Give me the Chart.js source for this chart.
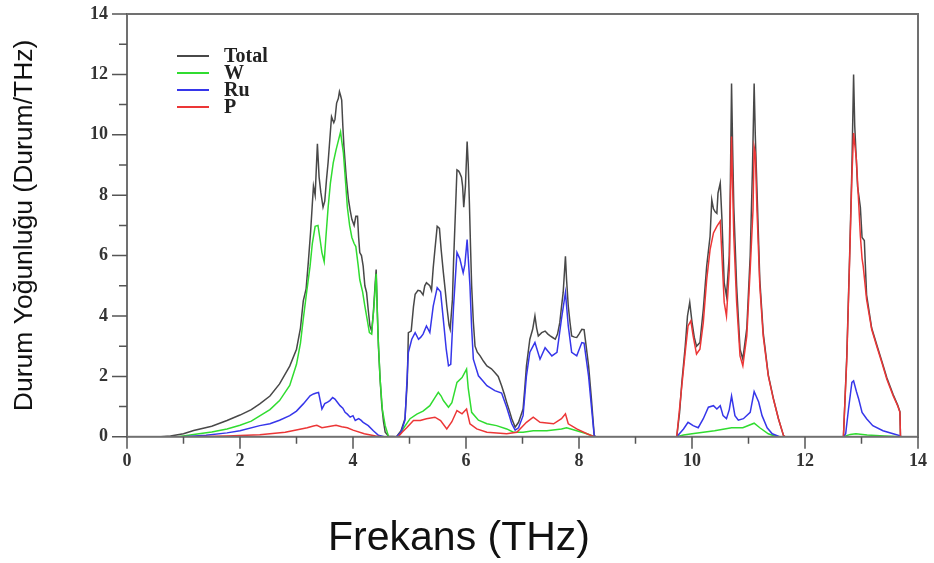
<!DOCTYPE html>
<html lang="tr">
<head>
<meta charset="UTF-8">
<title>Durum Yoğunluğu</title>
<script src="https://cdn.jsdelivr.net/npm/chart.js"></script>
<style>
  body { margin: 0; background: #fff; }
</style>
</head>
<body>
<canvas id="dos" width="934" height="563"></canvas>
<script>
// [frekans (THz), durum yoğunluğu (Durum/THz)]
const total = [
  [0,0],[0.6,0],[0.77,0.03],[1.0,0.1],[1.18,0.21],[1.5,0.35],[1.77,0.54],[2.0,0.72],[2.2,0.9],[2.35,1.09],
  [2.53,1.35],[2.7,1.75],[2.88,2.34],[3.0,2.9],[3.07,3.6],[3.12,4.5],[3.17,4.9],[3.21,5.8],[3.25,6.8],[3.27,7.4],
  [3.3,8.3],[3.33,8.0],[3.37,9.7],[3.4,8.6],[3.43,8.1],[3.47,7.6],[3.5,7.8],[3.53,8.5],[3.56,9.1],[3.6,10.1],
  [3.62,10.6],[3.66,10.4],[3.68,10.5],[3.71,11.05],[3.74,11.2],[3.76,11.43],[3.78,11.3],[3.8,11.15],[3.82,10.3],[3.84,9.6],
  [3.88,8.6],[3.92,7.85],[3.95,7.5],[3.98,7.2],[4.02,7.0],[4.05,7.3],[4.08,7.3],[4.1,6.6],[4.12,6.1],[4.15,6.0],
  [4.18,5.65],[4.21,5.0],[4.24,4.78],[4.27,4.2],[4.3,3.67],[4.33,3.5],[4.36,4.1],[4.39,5.0],[4.41,5.54],[4.43,4.2],
  [4.45,3.0],[4.48,1.9],[4.51,1.03],[4.54,0.5],[4.57,0.15],[4.63,0.02],[4.77,0],
  [4.85,0.2],[4.92,0.6],[4.96,1.8],[4.98,3.45],[5.03,3.5],[5.07,4.3],[5.1,4.72],[5.15,4.85],[5.19,4.83],[5.24,4.7],
  [5.27,5.0],[5.3,5.1],[5.36,5.0],[5.39,4.85],[5.42,5.6],[5.45,6.2],[5.49,6.97],[5.53,6.9],[5.56,6.2],[5.6,5.43],
  [5.63,4.9],[5.66,4.33],[5.7,3.7],[5.72,3.56],[5.76,4.55],[5.78,5.8],[5.81,7.3],[5.84,8.84],[5.87,8.8],[5.89,8.73],
  [5.92,8.6],[5.94,8.3],[5.96,7.6],[5.99,8.3],[6.02,9.78],[6.04,9.0],[6.06,7.75],[6.08,6.3],[6.1,5.0],[6.13,3.8],
  [6.16,3.0],[6.2,2.8],[6.25,2.68],[6.31,2.5],[6.37,2.35],[6.45,2.25],[6.51,2.13],[6.57,2.0],[6.63,1.69],[6.68,1.4],
  [6.72,1.14],[6.77,0.85],[6.81,0.6],[6.87,0.32],[6.93,0.48],[6.97,0.7],[7.01,0.92],[7.04,1.6],[7.07,2.35],[7.13,3.23],
  [7.18,3.56],[7.22,4.0],[7.25,3.6],[7.28,3.34],[7.34,3.45],[7.4,3.5],[7.45,3.4],[7.49,3.34],[7.54,3.28],[7.58,3.23],
  [7.62,3.4],[7.66,3.78],[7.69,4.3],[7.72,4.78],[7.76,5.98],[7.78,5.2],[7.81,4.33],[7.84,3.8],[7.87,3.34],[7.92,3.3],
  [7.96,3.29],[8.0,3.4],[8.05,3.56],[8.09,3.55],[8.12,3.1],[8.17,2.35],[8.22,1.25],[8.27,0.04],[8.3,0],
  [9.73,0],[9.78,0.8],[9.82,1.8],[9.88,3.0],[9.92,4.0],[9.96,4.45],[10.0,3.8],[10.04,3.3],[10.08,3.0],[10.14,3.12],
  [10.2,4.22],[10.26,5.65],[10.32,6.64],[10.35,7.85],[10.38,7.55],[10.41,7.45],[10.44,7.4],[10.46,8.07],[10.5,8.4],[10.53,7.2],
  [10.57,5.1],[10.61,4.66],[10.66,6.0],[10.68,8.5],[10.7,11.7],[10.72,9.5],[10.74,7.6],[10.79,5.0],[10.85,2.9],[10.9,2.57],
  [10.97,3.6],[11.03,6.0],[11.07,8.84],[11.1,11.7],[11.12,10.0],[11.14,8.8],[11.2,5.2],[11.26,3.45],[11.35,2.05],[11.44,1.27],
  [11.53,0.6],[11.62,0.04],[11.65,0],
  [12.68,0],[12.74,2.7],[12.79,6.0],[12.83,8.9],[12.86,12.0],[12.88,10.3],[12.93,8.3],[12.98,7.6],[13.01,6.6],[13.05,6.5],
  [13.09,4.7],[13.18,3.6],[13.27,3.05],[13.36,2.5],[13.45,1.95],[13.56,1.4],[13.64,1.05],[13.68,0.83],[13.69,0]
];

const tungsten = [
  [0,0],[0.9,0],[1.18,0.08],[1.5,0.16],[1.77,0.26],[2.0,0.38],[2.2,0.52],[2.35,0.69],[2.53,0.9],[2.7,1.2],
  [2.88,1.7],[3.0,2.4],[3.07,3.1],[3.12,3.9],[3.18,4.8],[3.24,5.65],[3.28,6.4],[3.33,6.97],[3.38,7.0],[3.42,6.5],
  [3.45,6.1],[3.49,5.8],[3.52,6.6],[3.56,7.6],[3.6,8.4],[3.65,9.07],[3.7,9.5],[3.74,9.8],[3.78,10.1],[3.8,9.8],
  [3.83,9.4],[3.87,8.4],[3.9,7.6],[3.94,7.0],[3.98,6.6],[4.02,6.4],[4.05,6.3],[4.09,5.7],[4.12,5.2],[4.17,4.8],
  [4.21,4.33],[4.25,3.9],[4.29,3.45],[4.33,3.4],[4.37,4.3],[4.41,5.4],[4.44,3.5],[4.48,1.9],[4.52,0.9],[4.57,0.37],
  [4.63,0],[4.8,0],
  [4.9,0.3],[5.01,0.6],[5.13,0.75],[5.24,0.85],[5.36,1.03],[5.45,1.3],[5.51,1.47],[5.56,1.35],[5.6,1.2],[5.69,0.98],
  [5.75,1.13],[5.84,1.8],[5.93,1.96],[6.01,2.24],[6.04,1.6],[6.1,0.81],[6.22,0.55],[6.37,0.43],[6.54,0.37],[6.72,0.26],
  [6.84,0.15],[7.01,0.15],[7.19,0.2],[7.43,0.2],[7.69,0.26],[7.78,0.3],[7.96,0.2],[8.14,0.1],[8.27,0],
  [9.73,0],[9.85,0.06],[10.0,0.1],[10.2,0.15],[10.4,0.2],[10.55,0.25],[10.7,0.3],[10.9,0.3],[11.1,0.45],[11.2,0.3],
  [11.35,0.1],[11.5,0],
  [12.68,0],[12.8,0.08],[12.9,0.1],[13.1,0.06],[13.4,0.03],[13.69,0]
];

const ruthenium = [
  [0,0],[1.0,0],[1.4,0.05],[1.77,0.13],[2.0,0.2],[2.35,0.37],[2.53,0.43],[2.7,0.55],[2.88,0.7],[3.0,0.85],
  [3.12,1.09],[3.24,1.36],[3.3,1.42],[3.35,1.45],[3.39,1.47],[3.42,1.2],[3.45,0.92],[3.5,1.1],[3.55,1.15],[3.59,1.2],
  [3.64,1.3],[3.68,1.25],[3.72,1.15],[3.77,1.03],[3.82,0.95],[3.86,0.81],[3.9,0.75],[3.95,0.65],[4.0,0.7],[4.04,0.54],
  [4.1,0.6],[4.14,0.55],[4.18,0.48],[4.27,0.37],[4.36,0.2],[4.45,0.05],[4.55,0],[4.77,0],
  [4.85,0.15],[4.92,0.55],[4.98,2.8],[5.04,3.23],[5.1,3.45],[5.16,3.23],[5.2,3.3],[5.24,3.4],[5.3,3.67],[5.36,3.45],
  [5.42,4.33],[5.49,4.94],[5.55,4.8],[5.61,3.67],[5.65,2.9],[5.69,2.35],[5.73,2.4],[5.78,4.33],[5.84,6.1],[5.89,5.9],
  [5.95,5.43],[5.98,5.7],[6.02,6.53],[6.07,5.0],[6.1,3.6],[6.13,2.57],[6.22,2.02],[6.3,1.85],[6.37,1.69],[6.51,1.53],
  [6.63,1.45],[6.72,0.98],[6.81,0.43],[6.87,0.22],[6.93,0.3],[7.01,0.7],[7.07,2.02],[7.13,2.8],[7.22,3.12],[7.31,2.57],
  [7.4,2.95],[7.52,2.68],[7.61,2.8],[7.69,3.9],[7.76,4.78],[7.81,3.67],[7.87,2.8],[7.96,2.68],[8.05,3.12],[8.09,3.1],
  [8.17,2.0],[8.22,1.0],[8.27,0.02],[8.3,0],
  [9.73,0],[9.85,0.26],[9.93,0.48],[10.02,0.37],[10.11,0.3],[10.2,0.6],[10.29,0.98],[10.38,1.03],[10.44,0.92],[10.5,1.03],
  [10.55,0.7],[10.61,0.6],[10.66,0.9],[10.7,1.35],[10.76,0.7],[10.82,0.55],[10.91,0.6],[11.03,0.81],[11.1,1.5],[11.18,1.15],
  [11.24,0.7],[11.33,0.3],[11.42,0.1],[11.55,0],
  [12.68,0],[12.72,0.1],[12.77,0.92],[12.83,1.8],[12.86,1.85],[12.91,1.5],[12.95,1.25],[13.01,0.81],[13.09,0.6],[13.2,0.37],
  [13.38,0.2],[13.56,0.1],[13.69,0.03],[13.7,0]
];

const phosphorus = [
  [0,0],[1.2,0],[1.77,0.03],[2.35,0.07],[2.8,0.15],[3.19,0.3],[3.3,0.36],[3.36,0.38],[3.45,0.3],[3.55,0.33],
  [3.7,0.38],[3.8,0.33],[3.9,0.3],[4.0,0.22],[4.2,0.1],[4.4,0.03],[4.5,0],[4.8,0],
  [4.87,0.15],[4.95,0.3],[5.07,0.54],[5.19,0.54],[5.3,0.6],[5.45,0.65],[5.55,0.54],[5.66,0.26],[5.75,0.5],[5.84,0.87],
  [5.93,0.76],[6.01,0.92],[6.07,0.43],[6.19,0.26],[6.37,0.15],[6.72,0.1],[6.9,0.15],[7.07,0.48],[7.19,0.65],[7.31,0.48],
  [7.55,0.43],[7.69,0.6],[7.76,0.76],[7.81,0.43],[7.96,0.26],[8.14,0.1],[8.27,0],
  [9.73,0],[9.82,1.69],[9.88,2.8],[9.93,3.67],[9.98,3.84],[10.02,3.34],[10.08,2.74],[10.14,2.9],[10.2,3.78],[10.26,5.2],
  [10.32,6.2],[10.38,6.75],[10.44,6.97],[10.5,7.14],[10.53,5.98],[10.57,4.45],[10.61,4.0],[10.66,5.54],[10.68,7.8],[10.7,9.94],
  [10.72,8.2],[10.74,6.64],[10.79,4.45],[10.85,2.68],[10.9,2.35],[10.97,3.34],[11.03,5.54],[11.08,7.52],[11.1,9.6],[11.12,9.4],
  [11.15,7.5],[11.2,5.0],[11.26,3.34],[11.35,2.02],[11.44,1.25],[11.53,0.6],[11.62,0.04],[11.65,0],
  [12.68,0],[12.74,2.57],[12.79,5.87],[12.83,8.6],[12.86,10.06],[12.91,9.17],[12.95,7.75],[12.98,6.64],[13.01,5.9],[13.03,5.65],
  [13.09,4.55],[13.18,3.56],[13.27,3.0],[13.36,2.46],[13.45,1.9],[13.56,1.36],[13.64,1.03],[13.68,0.81],[13.69,0]
];

const seriesNames = ['Total', 'W', 'Ru', 'P'];
const seriesColors = ['#484848', '#30dc30', '#3636ea', '#ec3636'];
const xTicks = [0, 2, 4, 6, 8, 10, 12, 14];
const xMinor = [1, 3, 5, 7, 9, 11, 13];
const yTicks = [0, 2, 4, 6, 8, 10, 12, 14];
const yMinor = [1, 3, 5, 7, 9, 11, 13];

const toPoints = arr => arr.map(p => ({ x: p[0], y: p[1] }));
const allSeries = [total, tungsten, ruthenium, phosphorus];

// frame, tick marks and the in-plot legend
const framePlugin = {
  id: 'frame',
  afterDraw(chart) {
    const { ctx, chartArea: a, scales: { x, y } } = chart;
    ctx.save();
    ctx.strokeStyle = '#707070';
    ctx.lineWidth = 2;
    ctx.strokeRect(a.left, a.top, a.right - a.left, a.bottom - a.top);

    ctx.strokeStyle = '#555';
    ctx.lineWidth = 1.5;
    ctx.beginPath();
    xTicks.forEach(v => { const px = x.getPixelForValue(v); ctx.moveTo(px, a.bottom); ctx.lineTo(px, a.bottom + 12); });
    xMinor.forEach(v => { const px = x.getPixelForValue(v); ctx.moveTo(px, a.bottom); ctx.lineTo(px, a.bottom + 7); });
    yTicks.forEach(v => { const py = y.getPixelForValue(v); ctx.moveTo(a.left, py); ctx.lineTo(a.left - 15, py); });
    yMinor.forEach(v => { const py = y.getPixelForValue(v); ctx.moveTo(a.left, py); ctx.lineTo(a.left - 8, py); });
    ctx.stroke();

    ctx.font = 'bold 20px "Liberation Serif"';
    ctx.textBaseline = 'middle';
    ctx.fillStyle = '#222';
    seriesNames.forEach((name, i) => {
      const ly = a.top + 42 + i * 17;
      ctx.strokeStyle = seriesColors[i];
      ctx.lineWidth = 2;
      ctx.beginPath();
      ctx.moveTo(a.left + 50, ly);
      ctx.lineTo(a.left + 82, ly);
      ctx.stroke();
      ctx.fillText(name, a.left + 97, ly + 1);
    });
    ctx.restore();
  }
};

new Chart(document.getElementById('dos'), {
  type: 'line',
  data: {
    datasets: allSeries.map((s, i) => ({
      label: seriesNames[i],
      data: toPoints(s),
      borderColor: seriesColors[i],
      borderWidth: 1.5,
      pointRadius: 0,
      tension: 0,
      order: i === 0 ? 10 : 4 - i
    }))
  },
  options: {
    responsive: false,
    animation: false,
    layout: { padding: { top: 14, right: 16, bottom: 0, left: 0 } },
    plugins: {
      legend: { display: false },
      tooltip: { enabled: false },
      title: {
        display: true,
        position: 'bottom',
        text: 'Frekans (THz)',
        color: '#111',
        font: { family: 'Liberation Sans', size: 41, weight: 'normal' },
        padding: { top: 0, bottom: 0 }
      }
    },
    scales: {
      x: {
        type: 'linear',
        min: 0,
        max: 14,
        afterFit: s => { s.height = 77; s.paddingLeft = 0; s.paddingRight = 0; },
        afterBuildTicks: s => { s.ticks = xTicks.map(v => ({ value: v })); },
        grid: { display: false, drawTicks: false },
        border: { display: false },
        ticks: {
          padding: 14,
          maxRotation: 0,
          color: '#333',
          font: { family: 'Liberation Serif', size: 18, weight: 'bold' }
        }
      },
      y: {
        min: 0,
        max: 14,
        afterFit: s => { s.width = 127; s.paddingTop = 0; s.paddingBottom = 0; },
        afterBuildTicks: s => { s.ticks = yTicks.map(v => ({ value: v })); },
        grid: { display: false, drawTicks: false },
        border: { display: false },
        ticks: {
          padding: 19,
          color: '#333',
          font: { family: 'Liberation Serif', size: 18, weight: 'bold' }
        },
        title: {
          display: true,
          text: 'Durum Yoğunluğu (Durum/THz)',
          color: '#111',
          font: { family: 'Liberation Sans', size: 26.5, weight: 'normal' },
          padding: { top: 9, bottom: 0 }
        }
      }
    }
  },
  plugins: [framePlugin]
});
</script>
</body>
</html>
